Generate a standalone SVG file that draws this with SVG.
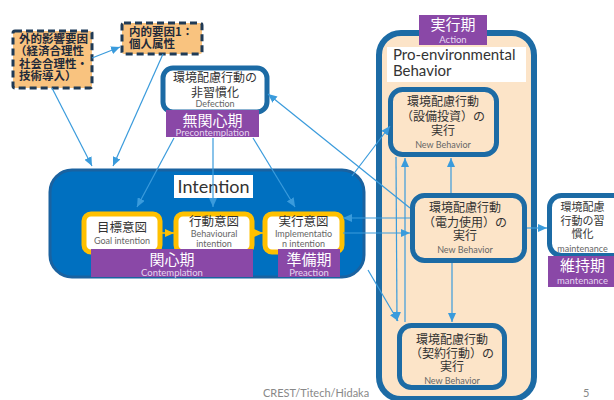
<svg xmlns="http://www.w3.org/2000/svg" width="614" height="400" viewBox="0 0 614 400">
<style>
.jp{font-family:"Noto Sans CJK JP","Noto Sans",sans-serif;fill:#333}
.lt{font-family:Lato,"Noto Sans",sans-serif}
.c{text-anchor:middle}
.sm{font-family:Lato,"Noto Sans",sans-serif;font-size:9px;fill:#666;text-anchor:middle}
.pur{fill:#8A48A7}
.pt{font-family:"Noto Sans CJK JP",sans-serif;fill:#fff;text-anchor:middle}
.ps{font-family:Lato,"Noto Sans",sans-serif;font-size:9.5px;fill:#E6D6F0;text-anchor:middle}
.fac{fill:#F9C37F;stroke:#1F3A56;stroke-width:3;stroke-dasharray:7 4}
.ft{font-family:"Noto Sans CJK JP",sans-serif;font-size:11.5px;font-weight:bold;fill:#1F2A3A}
.bb{stroke:#1C6BA5;stroke-width:5}
.yb{fill:#fff;stroke:#FFC000;stroke-width:5}
.cn{stroke:#3A9BDC;stroke-width:1.2;fill:none;marker-end:url(#ah)}
.co{stroke:#FFC000;stroke-width:1.5;fill:none;marker-end:url(#ao)}
</style>
<defs>
<marker id="ah" markerUnits="userSpaceOnUse" markerWidth="9" markerHeight="8" refX="9" refY="4" orient="auto"><path d="M0,0 L9,4 L0,8 z" fill="#3A9BDC"/></marker>
<marker id="ao" markerUnits="userSpaceOnUse" markerWidth="9" markerHeight="8" refX="9" refY="4" orient="auto"><path d="M0,0 L9,4 L0,8 z" fill="#FFC000"/></marker>
</defs>
<rect width="614" height="400" fill="#fff"/>

<g id="external-factor">
<rect class="fac" x="13" y="31" width="79" height="57" rx="2"/>
<text class="ft" x="19" y="42.5">外的影響要因</text>
<text class="ft" x="15" y="55">（経済合理性</text>
<text class="ft" x="19" y="67.5">社会合理性・</text>
<text class="ft" x="19" y="80">技術導入）</text>
</g>

<g id="internal-factor">
<rect class="fac" x="122" y="23" width="80" height="31" rx="2"/>
<text class="ft" x="129" y="36">内的要因1：</text>
<text class="ft" x="129" y="48">個人属性</text>
</g>

<g id="defection">
<rect class="bb" x="163" y="68" width="104" height="44" rx="10" fill="#fff"/>
<text class="jp c" x="215" y="82" font-size="12">環境配慮行動の</text>
<text class="jp c" x="215" y="96.5" font-size="12">非習慣化</text>
<text class="sm" x="215" y="107" font-size="8.5">Defection</text>
<rect class="pur" x="166" y="110" width="93" height="27"/>
<text class="pt" x="212.5" y="125.5" font-size="15">無関心期</text>
<text class="ps" x="212.5" y="135.5">Precontemplation</text>
</g>

<g id="intention">
<rect x="50" y="170" width="314" height="107" rx="22" fill="#0070C0" stroke="#1A62A0" stroke-width="3"/>
<rect x="174" y="175" width="79" height="23" fill="#fff"/>
<text class="lt c" x="213.5" y="193" font-size="18" fill="#333">Intention</text>
</g>

<g id="goal-intention">
<rect class="yb" x="84" y="214" width="76" height="38" rx="7"/>
<text class="jp c" x="122" y="232" font-size="12.5">目標意図</text>
<text class="sm" x="122" y="244">Goal intention</text>
</g>

<g id="behavioural-intention">
<rect class="yb" x="176" y="214" width="76" height="38" rx="7"/>
<text class="jp c" x="214" y="225.5" font-size="12.5">行動意図</text>
<text class="sm" x="214" y="237">Behavioural</text>
<text class="sm" x="214" y="246.5">intention</text>
</g>

<g id="implementation-intention">
<rect class="yb" x="265" y="214" width="77" height="38" rx="7"/>
<text class="jp c" x="303.5" y="225.5" font-size="12.5">実行意図</text>
<text class="sm" x="303.5" y="237">Implementatio</text>
<text class="sm" x="303.5" y="246.5">n intention</text>
</g>

<g id="contemplation">
<rect class="pur" x="91" y="249" width="162" height="28"/>
<text class="pt" x="172" y="265" font-size="15">関心期</text>
<text class="ps" x="172" y="275.5">Contemplation</text>
</g>

<g id="preaction">
<rect class="pur" x="278" y="249" width="62" height="28"/>
<text class="pt" x="309" y="265" font-size="15">準備期</text>
<text class="ps" x="309" y="275.5">Preaction</text>
</g>

<g id="action">
<rect x="379" y="33" width="155" height="366" rx="22" fill="#FCE4C8" stroke="#1C6BA5" stroke-width="6"/>
<rect class="pur" x="419" y="15" width="68" height="30"/>
<text class="pt" x="453" y="30" font-size="15">実行期</text>
<text class="ps" x="453" y="43">Action</text>
<rect x="387" y="47" width="139" height="35" fill="#fff"/>
<text class="lt" x="393" y="59.5" font-size="15" fill="#333">Pro-environmental</text>
<text class="lt" x="393" y="76" font-size="15" fill="#333">Behavior</text>
</g>

<g id="equipment">
<rect class="bb" x="390.5" y="89.5" width="106" height="65" rx="12" fill="#FCE4C8"/>
<text class="jp c" x="443" y="106" font-size="12">環境配慮行動</text>
<text class="jp c" x="443" y="120.5" font-size="12">（設備投資）の</text>
<text class="jp c" x="443" y="134.5" font-size="12">実行</text>
<text class="sm" x="443" y="147.5">New Behavior</text>
</g>

<g id="electricity">
<rect class="bb" x="412.5" y="195.5" width="112" height="65" rx="12" fill="#FCE4C8"/>
<text class="jp c" x="465" y="212" font-size="12">環境配慮行動</text>
<text class="jp c" x="465" y="226.5" font-size="12">（電力使用）の</text>
<text class="jp c" x="465" y="240" font-size="12">実行</text>
<text class="sm" x="465" y="253">New Behavior</text>
</g>

<g id="contract">
<rect class="bb" x="399.5" y="325.5" width="105" height="62" rx="12" fill="#FCE4C8"/>
<text class="jp c" x="452" y="344" font-size="12">環境配慮行動</text>
<text class="jp c" x="452" y="357.5" font-size="12">（契約行動）の</text>
<text class="jp c" x="452" y="371" font-size="12">実行</text>
<text class="sm" x="452" y="383.5">New Behavior</text>
</g>

<g id="maintenance">
<rect class="bb" x="549.5" y="195.5" width="80" height="60" rx="12" fill="#fff"/>
<text class="jp c" x="582.5" y="211" font-size="11">環境配慮</text>
<text class="jp c" x="582.5" y="225" font-size="11">行動の習</text>
<text class="jp c" x="582.5" y="238" font-size="11">慣化</text>
<text class="sm" x="582.5" y="251.5">maintenance</text>
<rect class="pur" x="548" y="256" width="70" height="31"/>
<text class="pt" x="582.5" y="271" font-size="15">維持期</text>
<text class="ps" x="582.5" y="283.5">mantenance</text>
</g>

<g id="connectors">
<line class="cn" x1="92" y1="58" x2="120" y2="47"/>
<line class="cn" x1="52" y1="88" x2="92" y2="166"/>
<line class="cn" x1="163" y1="54" x2="113" y2="166"/>
<line class="cn" x1="174" y1="138" x2="137" y2="207"/>
<line class="cn" x1="213" y1="138" x2="213" y2="207"/>
<line class="cn" x1="253" y1="138" x2="295" y2="207"/>
<line class="cn" x1="410" y1="208" x2="268" y2="94"/>
<line class="cn" x1="352" y1="176" x2="390" y2="126"/>
<line class="cn" x1="368" y1="270" x2="398" y2="321"/>
<line class="cn" x1="396" y1="157" x2="397" y2="321"/>
<line class="cn" x1="405" y1="322" x2="405" y2="158"/>
<line class="cn" x1="451" y1="193" x2="451" y2="158"/>
<line class="cn" x1="452" y1="263" x2="452" y2="322"/>
<line class="cn" x1="410" y1="218" x2="343" y2="218"/>
<line class="cn" x1="343" y1="233" x2="410" y2="233"/>
<line class="cn" x1="527" y1="228" x2="547" y2="228"/>
<line class="co" x1="162" y1="233" x2="174" y2="233"/>
<line class="co" x1="254" y1="233" x2="263" y2="233"/>
</g>

<text class="lt" x="263" y="397" font-size="11" fill="#888">CREST/Titech/Hidaka</text>
<text class="lt" x="583" y="397" font-size="11" fill="#888">5</text>
</svg>
